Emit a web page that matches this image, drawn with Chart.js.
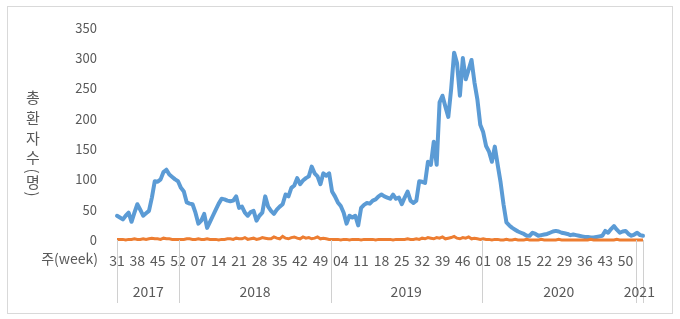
<!DOCTYPE html>
<html><head><meta charset="utf-8">
<script src="https://cdn.jsdelivr.net/npm/chart.js@4/dist/chart.umd.min.js"></script>
<style>html,body{margin:0;padding:0;background:#fff;}#wrap{position:relative;width:680px;height:319px;}</style>
</head><body><div id="wrap"><canvas id="c" width="680" height="319"></canvas></div>
<script>
const years = ['2017','2018','2019','2020','2021'];
const firstWeek = [31,1,1,1,1];
const lastWeek = [52,52,52,53,3];
const totalPatients = [
40,37,34,40,45,30,45,59,50,40, 44,48,70,97,96,100,112,116,108,104,
100,97,86,80,62,60,59,45,27,32, 43,20,30,40,50,60,68,67,65,64,
65,72,53,55,45,40,46,48,32,40, 45,72,55,48,43,50,55,59,75,72,
86,90,102,92,98,102,105,121,110,105, 92,110,106,110,80,72,62,56,45,27,
40,37,40,24,53,58,61,60,65,67, 72,75,72,70,68,75,68,70,59,70,
80,65,61,65,97,96,94,129,124,162, 124,227,238,220,203,250,309,292,238,300,
265,281,297,260,232,190,178,155,146,129, 154,124,95,59,29,24,20,17,14,12,
10,7,7,12,10,7,8,9,10,12, 14,15,14,12,11,10,8,9,8,7,
6,5,5,4,4,5,6,7,15,12, 18,23,17,12,14,15,10,7,9,12,
8,7];
const otherSeries = [
1,1,1,0,1,1,2,1,1,
2,1,2,3,2,2,1,3,2,2,1,1,1,
1,1,2,2,1,1,2,1,1,2,1,1,1,0,1,1,2,
2,1,3,2,2,4,1,2,3,1,2,4,3,2,2,5,3,2,6,3,2,4,5,3,2,5,3,4,2,3,5,2,3,2,1,1,
1,1,0,1,1,0,1,1,1,0,1,1,1,1,0,1,1,1,1,1,0,1,1,1,1,2,1,1,
2,1,3,2,4,3,2,4,3,5,2,3,4,6,3,2,4,3,5,2,3,2,1,2,
1,1,0,1,1,0,0,1,0,0,1,0,0,0,1,0,0,0,0,1,0,0,0,0,0,1,0,0,0,0,0,0,0,0,0,0,1,0,0,0,0,0,0,0,0,1,0,0,0,0,0,0,0,0,0];
const yTitleChars = ['총','환','자','수','명'];
const xTitle = '주(week)';
const tickEvery = 7;

const labels = [], yearOfIndex = [];
years.forEach((y, k) => {
  for (let w = firstWeek[k]; w <= lastWeek[k]; w++) {
    labels.push(String(w).padStart(2, '0'));
    yearOfIndex.push(k);
  }
});

const FONT = "'Noto Sans CJK KR', 'Noto Sans', sans-serif";
const GRAY = '#595959';

const decor = {
  id: 'decor',
  afterDraw(chart) {
    const ctx = chart.ctx, xs = chart.scales.x, ca = chart.chartArea;
    ctx.save();
    ctx.strokeStyle = '#d9d9d9'; ctx.lineWidth = 1;
    ctx.strokeRect(7.5, 6.5, 665, 307);
    const bounds = [xs.getPixelForValue(0)];
    for (let i = 1; i < labels.length; i++) {
      if (yearOfIndex[i] !== yearOfIndex[i-1]) {
        bounds.push((xs.getPixelForValue(i-1) + xs.getPixelForValue(i)) / 2);
      }
    }
    bounds.push(xs.getPixelForValue(labels.length - 1));
    ctx.strokeStyle = '#d0d0d0';
    bounds.forEach(b => {
      const xx = Math.round(b) + 0.5;
      ctx.beginPath(); ctx.moveTo(xx, ca.bottom); ctx.lineTo(xx, 303); ctx.stroke();
    });
    ctx.fillStyle = GRAY;
    ctx.font = '14px ' + FONT;
    ctx.textAlign = 'center'; ctx.textBaseline = 'middle';
    years.forEach((y, k) => {
      ctx.fillText(y, (bounds[k] + bounds[k+1]) / 2, 292);
    });
    ctx.textAlign = 'right';
    ctx.font = '14px ' + FONT;
    ctx.fillText(xTitle, 98, 259);
    ctx.textAlign = 'center';
    ctx.font = '15px ' + FONT;
    const cx = 33;
    const ys = [97, 118, 138, 157];
    for (let i = 0; i < 4; i++) ctx.fillText(yTitleChars[i], cx, ys[i]);
    ctx.save(); ctx.translate(cx, 171); ctx.rotate(Math.PI/2); ctx.fillText('(', 0, 0); ctx.restore();
    ctx.fillText(yTitleChars[4], cx, 182);
    ctx.save(); ctx.translate(cx, 194); ctx.rotate(Math.PI/2); ctx.fillText(')', 0, 0); ctx.restore();
    ctx.restore();
  }
};

new Chart(document.getElementById('c'), {
  type: 'line',
  data: {
    labels,
    datasets: [
      { data: totalPatients, borderColor: '#5b9bd5', borderWidth: 4, pointRadius: 0, tension: 0, order: 2, clip: false, borderJoinStyle: 'round', borderCapStyle: 'round' },
      { data: otherSeries, borderColor: '#ed7d31', borderWidth: 3, pointRadius: 0, tension: 0, order: 1, clip: false }
    ]
  },
  options: {
    responsive: false, animation: false,
    layout: { padding: { left: 0, right: 37, top: 24, bottom: 0 } },
    plugins: { legend: { display: false }, tooltip: { enabled: false } },
    scales: {
      x: {
        offset: false,
        grid: { display: false, drawTicks: false },
        border: { display: false },
        ticks: {
          autoSkip: false, maxRotation: 0, minRotation: 0, padding: 12,
          color: GRAY, font: { size: 14, family: FONT },
          callback: (v, i) => (i % tickEvery === 0 ? labels[i] : null)
        },
        afterFit: s => { s.height = 79; }
      },
      y: {
        min: 0, max: 350,
        grid: { display: false, drawTicks: false },
        border: { display: false },
        ticks: { stepSize: 50, padding: 20, color: GRAY, font: { size: 13, family: FONT } },
        afterFit: s => { s.width = 117; }
      }
    }
  },
  plugins: [decor]
});
</script>
</body></html>
